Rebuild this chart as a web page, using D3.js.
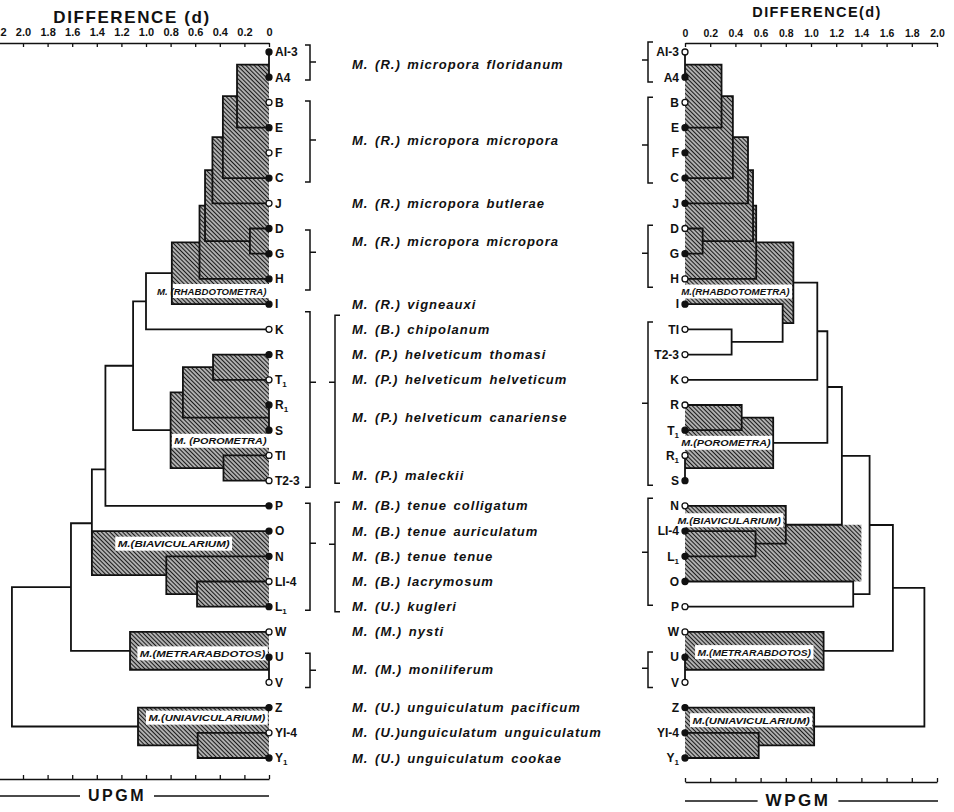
<!DOCTYPE html>
<html>
<head>
<meta charset="utf-8">
<title>Difference (d) - UPGM / WPGM</title>
<style>
  body { margin: 0; background: #fff; }
  svg { display: block; font-family: "Liberation Sans", Arial, sans-serif; }
</style>
</head>
<body>
<svg width="954" height="812" viewBox="0 0 954 812"></svg>
<script src="https://d3js.org/d3.v7.min.js"></script>
<script>
// leaf order, top to bottom
const leavesUPGM = ['AI-3', 'A4', 'B', 'E', 'F', 'C', 'J', 'D', 'G', 'H', 'I', 'K',
  'R', 'T_1', 'R_1', 'S', 'TI', 'T2-3', 'P', 'O', 'N', 'LI-4', 'L_1', 'W', 'U', 'V',
  'Z', 'YI-4', 'Y_1'];
const leavesWPGM = ['AI-3', 'A4', 'B', 'E', 'F', 'C', 'J', 'D', 'G', 'H', 'I', 'TI',
  'T2-3', 'K', 'R', 'T_1', 'R_1', 'S', 'N', 'LI-4', 'L_1', 'O', 'P', 'W', 'U', 'V',
  'Z', 'YI-4', 'Y_1'];

// clusters (d = difference at merge), children listed top to bottom
// "at" = row where the original draws the junction when it is not the midpoint
const nodesUPGM = [
  { id: 'a', kids: ['AI-3', 'A4'], d: 0 },
  { id: 'r1', kids: ['a', 'B', 'E'], d: 0.26, shade: 'hatch' },
  { id: 'r2', kids: ['r1', 'F', 'C'], d: 0.375, shade: 'hatch' },
  { id: 'r3', kids: ['r2', 'J'], d: 0.46, shade: 'hatch' },
  { id: 'dg', kids: ['D', 'G'], d: 0.155, shade: 'hatch' },
  { id: 'r4', kids: ['r3', 'dg'], d: 0.52, shade: 'hatch' },
  { id: 'r5', kids: ['r4', 'H'], d: 0.565, shade: 'hatch' },
  { id: 'r6', kids: ['r5', 'I'], d: 0.79, shade: 'hatch' },
  { id: 'k', kids: ['r6', 'K'], d: 1.0 },
  { id: 'pa', kids: ['R', 'T_1'], d: 0.455, shade: 'hatch' },
  { id: 'rs', kids: ['R_1', 'S'], d: 0 },
  { id: 'pb', kids: ['pa', 'rs'], d: 0.70, shade: 'hatch' },
  { id: 'tt', kids: ['TI', 'T2-3'], d: 0.37, shade: 'hatch' },
  { id: 'pc', kids: ['pb', 'tt'], d: 0.80, shade: 'hatch' },
  { id: 'kp', kids: ['k', 'pc'], d: 1.105 },
  { id: 'kpp', kids: ['kp', 'P'], d: 1.33, at: 16.55 },
  { id: 'll', kids: ['LI-4', 'L_1'], d: 0.585, shade: 'hatch' },
  { id: 'nl', kids: ['N', 'll'], d: 0.835, shade: 'hatch' },
  { id: 'onl', kids: ['O', 'nl'], d: 1.44, shade: 'hatch' },
  { id: 'x1', kids: ['kpp', 'onl'], d: 1.44, at: 18.69 },
  { id: 'uv', kids: ['U', 'V'], d: 0 },
  { id: 'm', kids: ['W', 'uv'], d: 1.13, shade: 'hatch' },
  { id: 'x2', kids: ['x1', 'm'], d: 1.61 },
  { id: 'yy', kids: ['YI-4', 'Y_1'], d: 0.58, shade: 'hatch' },
  { id: 'u', kids: ['Z', 'yy'], d: 1.065, shade: 'hatch' },
  { id: 'root', kids: ['x2', 'u'], d: 2.09 },
];
const nodesWPGM = [
  { id: 'a', kids: ['AI-3', 'A4'], d: 0 },
  { id: 'r1', kids: ['a', 'B', 'E'], d: 0.29, shade: 'hatch' },
  { id: 'r2', kids: ['r1', 'F', 'C'], d: 0.38, shade: 'hatch' },
  { id: 'r3', kids: ['r2', 'J'], d: 0.50, shade: 'hatch' },
  { id: 'dg', kids: ['D', 'G'], d: 0.14, shade: 'hatch' },
  { id: 'r4', kids: ['r3', 'dg'], d: 0.54, shade: 'hatch' },
  { id: 'r5', kids: ['r4', 'H'], d: 0.565, shade: 'hatch' },
  { id: 'tt', kids: ['TI', 'T2-3'], d: 0.37 },
  { id: 'it', kids: ['I', 'tt'], d: 0.775, shade: 'white' },
  { id: 'r6', kids: ['r5', 'it'], d: 0.86, shade: 'hatch' },
  { id: 'k', kids: ['r6', 'K'], d: 1.05 },
  { id: 'pa', kids: ['R', 'T_1'], d: 0.45, shade: 'hatch' },
  { id: 'rs', kids: ['R_1', 'S'], d: 0 },
  { id: 'pb', kids: ['pa', 'rs'], d: 0.70, shade: 'hatch' },
  { id: 'kp', kids: ['k', 'pb'], d: 1.13 },
  { id: 'll', kids: ['LI-4', 'L_1'], d: 0.56, shade: 'hatch' },
  { id: 'nl', kids: ['N', 'll'], d: 0.80, shade: 'hatch' },
  { id: 'kpn', kids: ['kp', 'nl'], d: 1.245 },
  { id: 'op', kids: ['O', 'P'], d: 1.335 },
  { id: 'x1', kids: ['kpn', 'op'], d: 1.465 },
  { id: 'uv', kids: ['U', 'V'], d: 0 },
  { id: 'm', kids: ['W', 'uv'], d: 1.10, shade: 'hatch' },
  { id: 'x2', kids: ['x1', 'm'], d: 1.65 },
  { id: 'yy', kids: ['YI-4', 'Y_1'], d: 0.585, shade: 'hatch' },
  { id: 'u', kids: ['Z', 'yy'], d: 1.025, shade: 'hatch' },
  { id: 'root', kids: ['x2', 'u'], d: 1.90 },
];
// shaded block of the WPGM tree that is not a single merge
const extraWPGM = [{ d: 1.40, top: 'nl', bottom: 'O' }];

// subgenus labels: row (in leaf rows) and extent in d
const groupsUPGM = [
  { name: 'M. (RHABDOTOMETRA)', row: 9.48, d0: 0, d1: 0.93 },
  { name: 'M. (POROMETRA)', row: 15.42, d0: 0, d1: 0.79 },
  { name: 'M.(BIAVICULARIUM)', row: 19.5, d0: 0.30, d1: 1.25 },
  { name: 'M.(METRARABDOTOS)', row: 23.85, d0: 0.01, d1: 1.07 },
  { name: 'M.(UNIAVICULARIUM)', row: 26.4, d0: 0.01, d1: 1.0 },
];
const groupsWPGM = [
  { name: 'M.(RHABDOTOMETRA)', row: 9.5, d0: -0.05, d1: 0.85 },
  { name: 'M.(POROMETRA)', row: 15.5, d0: -0.05, d1: 0.70 },
  { name: 'M.(BIAVICULARIUM)', row: 18.57, d0: -0.08, d1: 0.78 },
  { name: 'M.(METRARABDOTOS)', row: 23.8, d0: 0.08, d1: 1.02 },
  { name: 'M.(UNIAVICULARIUM)', row: 26.5, d0: 0.04, d1: 1.01 },
];

const openUPGM = ['B', 'F', 'J', 'K', 'T_1', 'TI', 'T2-3', 'LI-4', 'W', 'V', 'YI-4'];
const openWPGM = ['AI-3', 'B', 'D', 'H', 'TI', 'T2-3', 'K', 'R', 'R_1', 'N', 'P', 'W', 'V'];

const speciesNames = [
  'M. (R.) micropora floridanum', 'M. (R.) micropora micropora',
  'M. (R.) micropora butlerae', 'M. (R.) micropora micropora',
  'M. (R.) vigneauxi', 'M. (B.) chipolanum', 'M. (P.) helveticum thomasi',
  'M. (P.) helveticum helveticum', 'M. (P.) helveticum canariense',
  'M. (P.) maleckii', 'M. (B.) tenue colligatum', 'M. (B.) tenue auriculatum',
  'M. (B.) tenue tenue', 'M. (B.) lacrymosum', 'M. (U.) kugleri',
  'M. (M.) nysti', 'M. (M.) moniliferum', 'M. (U.) unguiculatum pacificum',
  'M. (U.)unguiculatum unguiculatum', 'M. (U.) unguiculatum cookae'
];
const speciesRows = [0.5, 3.5, 6, 7.5, 10, 11, 12, 13, 14.5, 16.8, 18, 19, 20, 21,
  22, 23, 24.5, 26, 27, 28];

// brackets: [from row, to row, tick row]
const bracketsUPGM = [[-0.28, 1.11, 0.4], [1.94, 5.16, 3.49], [7.06, 9.44, 7.94],
  [10.3, 17.26, 13.1], [17.9, 22.14, 19.48], [23.85, 25.2, 24.52]];
const bracketsSpecies = [[10.44, 17.1, 13.1], [17.86, 22.2, 19.52]];
const bracketsWPGM = [[-0.4, 1.19, 0.32], [1.79, 5.2, 3.69], [6.87, 9.33, 7.98],
  [10.71, 17.18, 13.93], [17.7, 21.94, 19.84], [23.8, 25.2, 24.44]];

const tickValuesU = d3.range(0, 2.21, 0.2);
const tickValuesW = d3.range(0, 2.01, 0.2);

// ---

const svg = d3.select('svg');
const ink = '#111';

const pat = svg.append('defs').append('pattern')
  .attr('id', 'hatch')
  .attr('patternUnits', 'userSpaceOnUse')
  .attr('width', 3).attr('height', 3)
  .attr('patternTransform', 'rotate(-45)');
pat.append('rect').attr('width', 3).attr('height', 3).attr('fill', '#fff');
pat.append('line')
  .attr('x1', 1.5).attr('x2', 1.5).attr('y1', 0).attr('y2', 3)
  .attr('stroke', '#1a1a1a').attr('stroke-width', 1.7);

const yRow = d3.scaleLinear().domain([0, 28]).range([52, 758]);
const xU = d3.scaleLinear().domain([0, 2.2]).range([269, 269 - 2.2 * 123]);
const xW = d3.scaleLinear().domain([0, 2.0]).range([685, 937]);

const fmt = d => d < 0.01 ? '0' : d3.format('.1f')(d);

function styleAxis (g, size) {
  g.attr('font-family', null).attr('font-size', null);
  g.select('.domain').attr('stroke', ink).attr('stroke-width', 1.6);
  g.selectAll('.tick line').attr('stroke', ink).attr('stroke-width', 1.3);
  g.selectAll('.tick text')
    .attr('fill', ink)
    .attr('font-size', size)
    .attr('font-weight', 'bold');
}

// top axes
svg.append('g')
  .attr('transform', 'translate(0,43)')
  .call(d3.axisTop(xU).tickValues(tickValuesU).tickSize(-4).tickSizeOuter(0)
    .tickPadding(7).tickFormat(fmt))
  .call(g => styleAxis(g, 11));
svg.append('g')
  .attr('transform', 'translate(0,43)')
  .call(d3.axisTop(xW).tickValues(tickValuesW).tickSize(-4).tickSizeOuter(0)
    .tickPadding(6).tickFormat(fmt))
  .call(g => styleAxis(g, 10.5));

// bottom axes
svg.append('g')
  .attr('transform', 'translate(0,779)')
  .call(d3.axisBottom(xU).tickValues(tickValuesW).tickSize(-4).tickSizeOuter(0)
    .tickFormat(''))
  .call(g => styleAxis(g, 10));
svg.append('g')
  .attr('transform', 'translate(0,782)')
  .call(d3.axisBottom(xW).tickValues(tickValuesW).tickSize(-4).tickSizeOuter(0)
    .tickFormat(''))
  .call(g => styleAxis(g, 10));

// titles
svg.append('text')
  .attr('x', 132).attr('y', 23)
  .attr('text-anchor', 'middle')
  .attr('font-size', 17).attr('font-weight', 'bold')
  .attr('letter-spacing', 1.6).attr('fill', ink)
  .text('DIFFERENCE (d)');
svg.append('text')
  .attr('x', 817).attr('y', 17)
  .attr('text-anchor', 'middle')
  .attr('font-size', 14.5).attr('font-weight', 'bold')
  .attr('letter-spacing', 1.4).attr('fill', ink)
  .text('DIFFERENCE(d)');

function methodTitle (label, cx, y, x0, x1, size) {
  const t = svg.append('text')
    .attr('x', cx).attr('y', y)
    .attr('text-anchor', 'middle')
    .attr('font-size', size).attr('font-weight', 'bold')
    .attr('letter-spacing', 2.5).attr('fill', ink)
    .text(label);
  const w = t.node().getComputedTextLength() / 2 + 8;
  svg.append('path')
    .attr('d', `M${x0},${y - 5}H${cx - w}M${cx + w},${y - 5}H${x1}`)
    .attr('stroke', ink).attr('stroke-width', 1.4);
}
methodTitle('UPGM', 117, 801, 0, 269, 16);
methodTitle('WPGM', 798, 806, 685, 938, 17);

function leafLabel (sel, name) {
  const parts = name.split('_');
  sel.text(parts[0]);
  if (parts[1]) {
    sel.append('tspan')
      .attr('font-size', 8).attr('dy', 3)
      .text(parts[1]);
  }
}

function drawTree ({ leaves, nodes, extra, groups, open, x, dir }) {
  const pos = {};
  const dist = {};
  leaves.forEach((l, i) => { pos[l] = i; dist[l] = 0; });
  nodes.forEach(n => {
    const a = n.kids[0];
    const b = n.kids[n.kids.length - 1];
    pos[n.id] = n.at != null ? n.at : (pos[a] + pos[b]) / 2;
    dist[n.id] = n.d;
  });

  const g = svg.append('g');

  // shaded blocks, widest first so inner ones sit on top
  const shades = nodes.filter(n => n.shade)
    .map(n => ({ d: n.d, top: n.kids[0], bottom: n.kids[n.kids.length - 1], fill: n.shade }))
    .concat(extra.map(e => Object.assign({ fill: 'hatch' }, e)))
    .sort((p, q) => q.d - p.d);
  g.selectAll('.shade').data(shades).join('rect')
    .attr('class', 'shade')
    .attr('x', s => Math.min(x(0), x(s.d)))
    .attr('width', s => Math.abs(x(s.d) - x(0)))
    .attr('y', s => yRow(pos[s.top]))
    .attr('height', s => yRow(pos[s.bottom]) - yRow(pos[s.top]))
    .attr('fill', s => s.fill === 'hatch' ? 'url(#hatch)' : '#fff');

  // subgenus labels on white strips
  const gl = g.selectAll('.grp').data(groups).join('g').attr('class', 'grp');
  gl.append('rect')
    .attr('x', s => Math.min(x(s.d0), x(s.d1)))
    .attr('width', s => Math.abs(x(s.d1) - x(s.d0)))
    .attr('y', s => yRow(s.row) - 7)
    .attr('height', 14)
    .attr('fill', '#fff');
  gl.append('text')
    .attr('x', s => (x(s.d0) + x(s.d1)) / 2)
    .attr('y', s => yRow(s.row) + 3.5)
    .attr('text-anchor', 'middle')
    .attr('font-size', 9.5)
    .attr('font-weight', 'bold')
    .attr('font-style', 'italic')
    .attr('fill', ink)
    .attr('textLength', s => Math.abs(x(s.d1) - x(s.d0)) - 5)
    .attr('lengthAdjust', 'spacingAndGlyphs')
    .text(s => s.name);

  // links
  g.selectAll('.link').data(nodes).join('path')
    .attr('class', 'link')
    .attr('fill', 'none')
    .attr('stroke', ink)
    .attr('stroke-width', 1.8)
    .attr('stroke-linejoin', 'miter')
    .attr('d', n => {
      const a = n.kids[0];
      const b = n.kids[n.kids.length - 1];
      return `M${x(dist[a])},${yRow(pos[a])}H${x(n.d)}V${yRow(pos[b])}H${x(dist[b])}`;
    });

  // leaves
  g.selectAll('.dot').data(leaves).join('circle')
    .attr('class', 'dot')
    .attr('cx', x(0))
    .attr('cy', l => yRow(pos[l]))
    .attr('r', 3)
    .attr('fill', l => open.includes(l) ? '#fff' : ink)
    .attr('stroke', ink)
    .attr('stroke-width', 1.3);
  g.selectAll('.leaf').data(leaves).join('text')
    .attr('class', 'leaf')
    .attr('x', x(0) + dir * 6)
    .attr('y', l => yRow(pos[l]) + 4.3)
    .attr('text-anchor', dir > 0 ? 'start' : 'end')
    .attr('font-size', 12)
    .attr('font-weight', 'bold')
    .attr('fill', ink)
    .each(function (l) { leafLabel(d3.select(this), l); });
}

drawTree({ leaves: leavesUPGM, nodes: nodesUPGM, extra: [], groups: groupsUPGM,
  open: openUPGM, x: xU, dir: 1 });
drawTree({ leaves: leavesWPGM, nodes: nodesWPGM, extra: extraWPGM, groups: groupsWPGM,
  open: openWPGM, x: xW, dir: -1 });

// brackets
function brackets (data, bx, hook, tick) {
  svg.append('g').selectAll('path').data(data).join('path')
    .attr('fill', 'none')
    .attr('stroke', ink)
    .attr('stroke-width', 1.5)
    .attr('d', b => `M${bx + hook},${yRow(b[0])}H${bx}V${yRow(b[1])}H${bx + hook}` +
      `M${bx},${yRow(b[2])}H${bx + tick}`);
}
brackets(bracketsUPGM, 310, -5, 6);
brackets(bracketsSpecies, 335, 5, -6);
brackets(bracketsWPGM, 648, 5, -6);

// species names
svg.append('g').selectAll('text').data(speciesNames).join('text')
  .attr('x', 352)
  .attr('y', (d, i) => yRow(speciesRows[i]) + 4.5)
  .attr('font-size', 13)
  .attr('font-weight', 'bold')
  .attr('font-style', 'italic')
  .attr('letter-spacing', 1)
  .attr('word-spacing', 2)
  .attr('fill', ink)
  .text(d => d);
</script>
</body>
</html>
